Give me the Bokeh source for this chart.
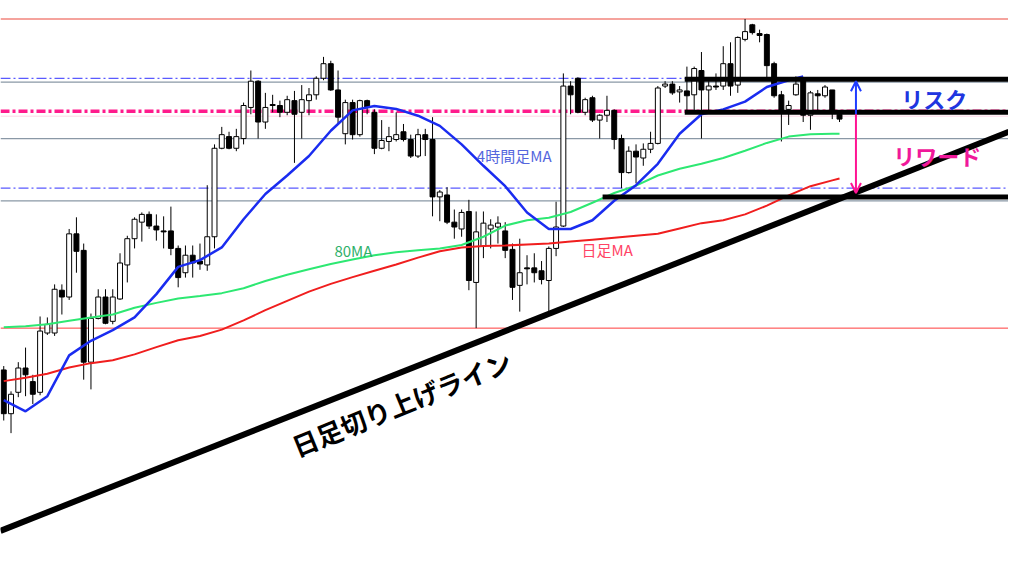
from bokeh.plotting import figure
from bokeh.models import Range1d, Span, Arrow, OpenHead, ColumnDataSource, Label
from bokeh.embed import file_html
from bokeh.resources import INLINE

# ---- candle data (chart price scale, axis runs downward like the screen) ----
opens = [380, 425, 403, 378, 392, 403, 342, 342, 298, 305, 240, 257, 372, 327, 305, 330, 307, 272, 245, 228,
         220, 232, 237, 237, 255, 280, 262, 268, 272, 243, 152, 140, 152, 142, 110, 83, 125, 107, 108, 115,
         103, 115, 103, 97, 80, 65, 92, 137, 105, 138, 103, 115, 152, 145, 143, 135, 143, 160, 138, 143,
         202, 200, 228, 235, 217, 290, 253, 235, 233, 237, 256, 293, 275, 275, 278, 288, 255, 232, 88, 80,
         115, 100, 123, 118, 113, 142, 177, 155, 162, 153, 147, 88, 86, 94, 93, 97, 72, 92, 88, 88,
         65, 87, 40, 25, 34, 35, 65, 97, 112, 97, 82, 118, 96, 98, 92, 117]
highs = [376, 402, 372, 357, 385, 325, 326, 292, 292, 235, 223, 250, 322, 297, 297, 297, 260, 242, 223, 218,
         217, 220, 222, 212, 252, 252, 252, 250, 190, 148, 130, 135, 132, 105, 72, 82, 95, 97, 103, 98,
         93, 87, 90, 78, 58, 62, 72, 102, 102, 102, 102, 112, 123, 130, 115, 127, 138, 132, 132, 120,
         195, 192, 215, 215, 205, 217, 217, 225, 222, 228, 250, 245, 262, 260, 268, 253, 207, 75, 83, 79,
         100, 98, 117, 98, 112, 138, 150, 148, 147, 135, 88, 83, 83, 88, 68, 68, 53, 83, 75, 47,
         43, 37, 19, 24, 30, 34, 63, 93, 103, 78, 80, 93, 92, 87, 92, 115]
lows = [432, 445, 408, 407, 415, 406, 344, 345, 323, 308, 280, 390, 400, 328, 333, 333, 308, 290, 255, 248,
        235, 247, 255, 262, 295, 285, 285, 277, 278, 255, 153, 153, 155, 148, 117, 142, 132, 115, 120, 118,
        167, 142, 118, 102, 82, 93, 127, 148, 143, 140, 117, 158, 153, 155, 145, 145, 162, 162, 160, 222,
        227, 230, 245, 243, 298, 337, 265, 255, 250, 265, 308, 320, 292, 290, 292, 323, 263, 233, 117, 116,
        118, 125, 142, 125, 153, 193, 178, 188, 170, 157, 148, 90, 97, 105, 115, 115, 142, 115, 92, 92,
        98, 95, 42, 35, 43, 82, 100, 145, 128, 98, 125, 133, 115, 100, 122, 125]
closes = [425, 405, 378, 385, 405, 340, 333, 297, 305, 240, 258, 372, 327, 305, 332, 305, 270, 245, 225, 220,
          232, 236, 238, 255, 285, 262, 270, 271, 243, 152, 138, 152, 140, 108, 83, 125, 110, 108, 115, 102,
          117, 102, 97, 80, 65, 92, 120, 105, 138, 103, 110, 152, 144, 140, 138, 143, 160, 138, 143, 202,
          197, 228, 233, 218, 288, 238, 229, 231, 229, 257, 295, 280, 276, 280, 287, 255, 233, 88, 97, 115,
          102, 123, 118, 113, 143, 177, 155, 161, 153, 147, 90, 86, 95, 92, 98, 70, 92, 88, 89, 65,
          88, 38, 32, 33, 36, 67, 98, 115, 108, 86, 118, 95, 98, 89, 115, 122]

# ---- moving averages (sampled at candle indices) ----
ma4h_idx = [0, 3, 6, 9, 12, 15, 18, 21, 24, 27, 30, 33, 36, 39, 42, 45, 48, 51, 54, 57,
            60, 63, 66, 69, 72, 75, 78, 81, 84, 87, 90, 93, 96, 99, 102, 105, 108, 110]
ma4h = [411, 422.5, 407, 365, 350, 339, 326, 302, 274, 267, 254, 225, 199, 180, 160, 134, 113, 108.5, 111.5, 118.5,
        129, 148, 170, 191, 218, 235, 235, 226, 206, 190, 168, 137, 117, 112, 104, 89, 82, 78]
ma_idx = [0, 3, 6, 9, 12, 15, 18, 21, 24, 27, 30, 33, 36, 39, 42, 45, 48, 51, 54, 57,
          60, 63, 66, 69, 72, 75, 78, 81, 84, 87, 90, 93, 96, 99, 102, 105, 108, 111, 114, 115]
ma80 = [336, 335, 333, 329.5, 326, 323, 316, 311, 306.5, 304, 301, 296, 288.5, 282, 276.5, 271, 266.5, 262, 259, 257,
        255, 251.5, 243, 231.5, 226, 223.5, 217.5, 208, 198, 190.5, 180, 173, 168, 162, 154.5, 146.5, 140, 137.5, 137, 137]
ma_daily = [391.5, 388, 384, 377.5, 373, 370, 364, 356.5, 349.5, 345, 338.5, 329, 318.5, 309, 299.5, 291.5, 284.5, 278, 271.5, 264.5,
            258, 254, 252.5, 252, 251, 250, 248, 246, 244, 242, 240, 234.5, 229, 226, 220, 211, 200.5, 191, 185, 183]

# ---- horizontal levels ----
salmon_levels = [19]
red_levels = [337]
blue_dashdot_levels = [80, 193]
gray_levels = [84, 142, 206]
pink_dashdot_levels = [114]
light_pink_levels = [119]
# thick black levels: (start candle index, level)
thick_start = [93.7, 93.7, 82.4]
thick_level = [81, 115, 202]
thick_end = [139, 139, 139]
# daily rising trend line
trend_x = [-0.45, 138.3]
trend_y = [545.5, 135]
# risk / reward arrows
arrow_x = 117.26
risk_from, risk_to = 117, 83
reward_from, reward_to = 117, 198

N = len(opens)
xs = list(range(N))
rising = [c < o for o, c in zip(opens, closes)]
src = ColumnDataSource(dict(
    x=xs, h=highs, l=lows,
    top=[min(o, c) for o, c in zip(opens, closes)],
    bot=[max(o, c) for o, c in zip(opens, closes)],
    fill=["white" if r else "black" for r in rising],
))

p = figure(width=1008, height=560, output_backend="svg", toolbar_location=None,
           x_range=Range1d(-0.447, 138.25), y_range=Range1d(576, 0),
           min_border=0, outline_line_color=None, background_fill_color="white")
p.axis.visible = False
p.grid.visible = False

for y in salmon_levels:
    p.add_layout(Span(location=y, dimension="width", line_color="#f2857c", line_width=1.6, level="underlay"))
for y in red_levels:
    p.add_layout(Span(location=y, dimension="width", line_color="#ff3b3b", line_width=1, level="underlay"))
for y in gray_levels:
    p.add_layout(Span(location=y, dimension="width", line_color="#8a98a6", line_width=1.2, level="underlay"))
for y in blue_dashdot_levels:
    p.add_layout(Span(location=y, dimension="width", line_color="#5a5aff", line_width=1.2,
                      line_dash="10 3 2 3", level="underlay"))
for y in light_pink_levels:
    p.add_layout(Span(location=y, dimension="width", line_color="#ffd6e6", line_width=1, level="underlay"))
for y in pink_dashdot_levels:
    p.add_layout(Span(location=y, dimension="width", line_color="#ff1a8c", line_width=3.5,
                      line_dash="9 3 3 3", level="underlay"))

# candles
p.segment(x0="x", y0="h", x1="x", y1="l", source=src, line_color="black", line_width=1)
p.vbar(x="x", width=0.68, top="top", bottom="bot", fill_color="fill", line_color="black",
       line_width=1, source=src)

# moving averages
p.line(ma_idx, ma_daily, line_color="#f01e1e", line_width=2)
p.line(ma_idx, ma80, line_color="#2de872", line_width=2)
p.line(ma4h_idx, ma4h, line_color="#1a2cf0", line_width=2.5)

# thick black levels and trend line
p.segment(x0=thick_start, y0=thick_level, x1=thick_end, y1=thick_level, line_color="black", line_width=5)
p.line(trend_x, trend_y, line_color="black", line_width=6)

# arrows
p.add_layout(Arrow(end=OpenHead(size=10, line_color="#1e3cff", line_width=2),
                   x_start=arrow_x, y_start=risk_from, x_end=arrow_x, y_end=risk_to,
                   line_color="#1e3cff", line_width=2))
p.add_layout(Arrow(end=OpenHead(size=10, line_color="#ff1493", line_width=2),
                   x_start=arrow_x, y_start=reward_from, x_end=arrow_x, y_end=reward_to,
                   line_color="#ff1493", line_width=2))

jp = "Noto Sans CJK JP"
labels = [
    dict(x=123.5, y=100, text="リスク", text_color="#2035e0", text_font_size="22px", text_font_style="bold"),
    dict(x=122.4, y=159, text="リワード", text_color="#f0189a", text_font_size="22px", text_font_style="bold"),
    dict(x=65.1, y=159, text="4時間足MA", text_color="#5566dd", text_font_size="15px", text_font_style="normal"),
    dict(x=45.5, y=257, text="80MA", text_color="#2fb06a", text_font_size="15px", text_font_style="normal"),
    dict(x=79.5, y=256, text="日足MA", text_color="#ff4466", text_font_size="15px", text_font_style="normal"),
]
for d in labels:
    p.add_layout(Label(text_font=jp, text_align="left", text_baseline="middle", **d))
p.add_layout(Label(x=54.7, y=414, text="日足切り上げライン", text_font=jp, text_font_size="26px",
                   text_font_style="bold", text_color="black", text_align="center",
                   text_baseline="middle", angle=0.385))

open("out.html", "w").write(file_html(p, INLINE))
